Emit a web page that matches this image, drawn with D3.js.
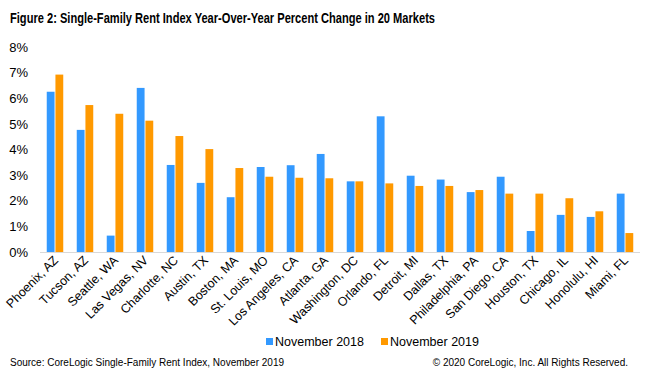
<!DOCTYPE html>
<html>
<head>
<meta charset="utf-8">
<script src="https://cdn.jsdelivr.net/npm/d3@7"></script>
<style>
  body { margin: 0; background: #fff; }
  text { font-family: "Liberation Sans", Arial, sans-serif; fill: #000; }
</style>
</head>
<body>
<svg width="650" height="379"></svg>
<script>
const markets = ['Phoenix, AZ', 'Tucson, AZ', 'Seattle, WA', 'Las Vegas, NV', 'Charlotte, NC',
  'Austin, TX', 'Boston, MA', 'St. Louis, MO', 'Los Angeles, CA', 'Atlanta, GA',
  'Washington, DC', 'Orlando, FL', 'Detroit, MI', 'Dallas, TX', 'Philadelphia, PA',
  'San Diego, CA', 'Houston, TX', 'Chicago, IL', 'Honolulu, HI', 'Miami, FL'];
const nov2018 = [6.26, 4.77, 0.64, 6.41, 3.40, 2.70, 2.14, 3.32, 3.39, 3.83,
  2.76, 5.30, 2.98, 2.83, 2.34, 2.94, 0.82, 1.45, 1.37, 2.28];
const nov2019 = [6.93, 5.74, 5.40, 5.13, 4.53, 4.02, 3.28, 2.94, 2.90, 2.88,
  2.76, 2.68, 2.58, 2.58, 2.42, 2.28, 2.28, 2.10, 1.59, 0.74];
const seriesNames = ['November 2018', 'November 2019'];
const yTicks = [0, 1, 2, 3, 4, 5, 6, 7, 8];

const colors = ['#3399ff', '#ff9900'];
const svg = d3.select('svg');

const x0 = d3.scaleBand().domain(markets).range([40, 640]).paddingInner(0.45).paddingOuter(0.225);
const x1 = d3.scaleBand().domain([0, 1]).range([0, x0.bandwidth()]).paddingInner(0.1);
const y = d3.scaleLinear().domain([0, 8]).range([252, 47.2]);

// title (narrow bold look)
svg.append('text')
  .attr('x', 10).attr('y', 23)
  .attr('textLength', 425)
  .attr('lengthAdjust', 'spacingAndGlyphs')
  .style('font-weight', 'bold')
  .style('font-size', '15px')
  .text('Figure 2:  Single-Family Rent Index Year-Over-Year Percent Change in 20 Markets');

// y axis labels (no axis line)
svg.append('g')
  .selectAll('text')
  .data(yTicks)
  .enter()
  .append('text')
  .attr('x', 28)
  .attr('y', (d) => y(d) + 4.5)
  .attr('text-anchor', 'end')
  .style('font-size', '13px')
  .text((d) => d + '%');

// bars
const data = markets.map((m, i) => ({ m, vals: [nov2018[i], nov2019[i]] }));
const groups = svg.append('g')
  .selectAll('g')
  .data(data)
  .enter()
  .append('g')
  .attr('transform', (d) => `translate(${x0(d.m)},0)`);
groups.selectAll('rect')
  .data((d) => d.vals.map((v, k) => ({ v, k })))
  .enter()
  .append('rect')
  .attr('x', (d) => x1(d.k))
  .attr('width', x1.bandwidth())
  .attr('y', (d) => y(d.v))
  .attr('height', (d) => y(0) - y(d.v))
  .attr('fill', (d) => colors[d.k]);

// baseline
svg.append('line')
  .attr('x1', 40).attr('x2', 640)
  .attr('y1', y(0) + 0.5).attr('y2', y(0) + 0.5)
  .attr('stroke', '#d9d9d9');

// category labels
svg.append('g')
  .selectAll('text')
  .data(markets)
  .enter()
  .append('text')
  .attr('transform', (d) => `translate(${x0(d) + x0.bandwidth() / 2 + 4},${y(0) + 9}) rotate(-45)`)
  .attr('text-anchor', 'end')
  .style('font-size', '12.5px')
  .text((d) => d);

// legend
const legend = svg.append('g').attr('transform', 'translate(266,346)');
const items = legend.selectAll('g')
  .data(seriesNames)
  .enter()
  .append('g')
  .attr('transform', (d, i) => `translate(${i * 115},0)`);
items.append('rect')
  .attr('x', 0).attr('y', -8)
  .attr('width', 7).attr('height', 7)
  .attr('fill', (d, i) => colors[i]);
items.append('text')
  .attr('x', 9).attr('y', 0)
  .style('font-size', '12.5px')
  .text((d) => d);

// footer
svg.append('text')
  .attr('x', 10).attr('y', 366)
  .style('font-size', '10px')
  .text('Source: CoreLogic Single-Family  Rent Index, November 2019');
svg.append('text')
  .attr('x', 628).attr('y', 366)
  .attr('text-anchor', 'end')
  .style('font-size', '10px')
  .text('© 2020 CoreLogic, Inc. All Rights Reserved.');
</script>
</body>
</html>
